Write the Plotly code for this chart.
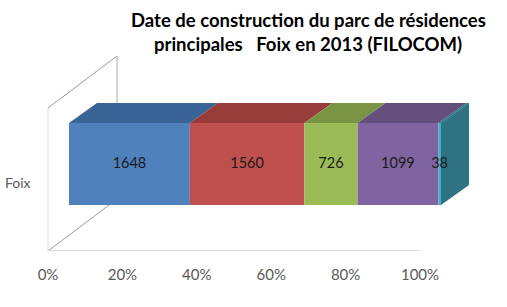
import plotly.graph_objects as go

# ---- data ----
categories = ["Foix"]
periods = ["avant 1949", "1949-1974", "1975-1989", "1990-2005", "après 2005"]
values = [1648, 1560, 726, 1099, 38]
tick_vals = [0, 20, 40, 60, 80, 100]
tick_text = ["0%", "20%", "40%", "60%", "80%", "100%"]
front_colors = ["#4F81BD", "#C0504D", "#9BBB59", "#8064A2", "#4BACC6"]
top_colors = ["#3B6496", "#983C3A", "#7A9446", "#634E7E", "#2F7382"]
title_lines = ["Date de construction du parc de résidences",
               "principales\u00a0\u00a0 Foix en 2013 (FILOCOM)"]

# ---- geometry (pseudo-3D projection) ----
W, H = 507, 307
PX = 3.72            # pixels per percent on the x axis
X0_PIX = 48          # pixel position of 0 %
FLOOR_PIX = 251      # pixel row of the floor line
FRONT_OFF = 21 / PX  # front face shift (percent units)
DEPTH_X = 28 / PX
DEPTH_Y = 20
BAR_Y0, BAR_Y1 = 46, 128
WALL_H = 143
WALL_DX = 69 / PX
WALL_DY = 52

total = sum(values)
shares = [v / total * 100 for v in values]
cums = [sum(shares[:i]) for i in range(len(shares))]

fig = go.Figure()

# wall & floor (decoration, below traces)
wall_col = "#D9D9D9"
edge_col = "#9A9A9A"
shapes = [
    dict(type="line", xref="x", yref="y", x0=0, y0=0, x1=0, y1=WALL_H,
         line=dict(color=wall_col, width=1), layer="below"),
    dict(type="line", xref="x", yref="y", x0=0, y0=WALL_H, x1=WALL_DX, y1=WALL_H + WALL_DY,
         line=dict(color=edge_col, width=1), layer="below"),
    dict(type="line", xref="x", yref="y", x0=WALL_DX, y0=WALL_H + WALL_DY, x1=WALL_DX, y1=WALL_DY,
         line=dict(color="#AAAAAA", width=1), layer="below"),
    dict(type="line", xref="x", yref="y", x0=0, y0=0, x1=WALL_DX, y1=WALL_DY,
         line=dict(color=edge_col, width=1), layer="below"),
    dict(type="line", xref="x", yref="y", x0=tick_vals[0], y0=0, x1=tick_vals[-1], y1=0,
         line=dict(color=wall_col, width=2), layer="below"),
]

bar_mid = (BAR_Y0 + BAR_Y1) / 2
bar_w = BAR_Y1 - BAR_Y0

# front faces
for i, (p, s, c) in enumerate(zip(periods, shares, front_colors)):
    fig.add_trace(go.Bar(
        orientation="h", y=[bar_mid], x=[s], base=[FRONT_OFF + cums[i]],
        width=bar_w, marker=dict(color=c, line=dict(width=0)),
        name=p, showlegend=False, hoverinfo="skip"))

# top faces
for i, (s, c) in enumerate(zip(shares, top_colors)):
    x0 = FRONT_OFF + cums[i]
    x1 = x0 + s
    fig.add_trace(go.Scatter(
        x=[x0, x1, x1 + DEPTH_X, x0 + DEPTH_X, x0],
        y=[BAR_Y1, BAR_Y1, BAR_Y1 + DEPTH_Y, BAR_Y1 + DEPTH_Y, BAR_Y1],
        fill="toself", fillcolor=c, mode="lines", line=dict(width=0, color=c),
        showlegend=False, hoverinfo="skip"))

# side face of the last segment
xe = FRONT_OFF + cums[-1] + shares[-1]
fig.add_trace(go.Scatter(
    x=[xe, xe, xe + DEPTH_X, xe + DEPTH_X, xe],
    y=[BAR_Y0, BAR_Y1, BAR_Y1 + DEPTH_Y, BAR_Y0 + DEPTH_Y, BAR_Y0],
    fill="toself", fillcolor=top_colors[-1], mode="lines",
    line=dict(width=0, color=top_colors[-1]), showlegend=False, hoverinfo="skip"))

# data labels
fig.add_trace(go.Scatter(
    x=[FRONT_OFF + c + s / 2 for c, s in zip(cums, shares)],
    y=[bar_mid] * len(values), mode="text",
    text=[str(v) for v in values],
    textfont=dict(family="Lato", size=14.5, color="#1A1A1A"),
    showlegend=False, hoverinfo="skip", cliponaxis=False))

annotations = [
    dict(text=title_lines[0], xref="paper", yref="paper", x=308 / W, y=(FLOOR_PIX - 20) / FLOOR_PIX,
         xanchor="center", yanchor="middle", showarrow=False,
         font=dict(family="Lato", size=18.5, color="#000000")),
    dict(text=title_lines[1], xref="paper", yref="paper", x=308 / W, y=(FLOOR_PIX - 44) / FLOOR_PIX,
         xanchor="center", yanchor="middle", showarrow=False,
         font=dict(family="Lato", size=18.5, color="#000000")),
    dict(text=categories[0], xref="x", yref="y", x=(3 - X0_PIX) / PX, y=FLOOR_PIX - 182,
         xanchor="left", yanchor="middle", showarrow=False,
         font=dict(family="Lato", size=14, color="#595959")),
]
for a in annotations[:2]:
    a["text"] = "<b>" + a["text"] + "</b>"

fig.update_layout(
    width=W, height=H, margin=dict(l=0, r=0, t=0, b=H - FLOOR_PIX),
    paper_bgcolor="white", plot_bgcolor="white",
    barmode="overlay", shapes=shapes, annotations=annotations,
    xaxis=dict(range=[-X0_PIX / PX, (W - X0_PIX) / PX], tickvals=tick_vals, ticktext=tick_text,
               showgrid=False, zeroline=False, showline=False, ticks="",
               ticklabelstandoff=13,
               tickfont=dict(family="Lato", size=15, color="#595959")),
    yaxis=dict(range=[0, FLOOR_PIX], visible=False, fixedrange=True),
)

fig.write_html("out.html")
